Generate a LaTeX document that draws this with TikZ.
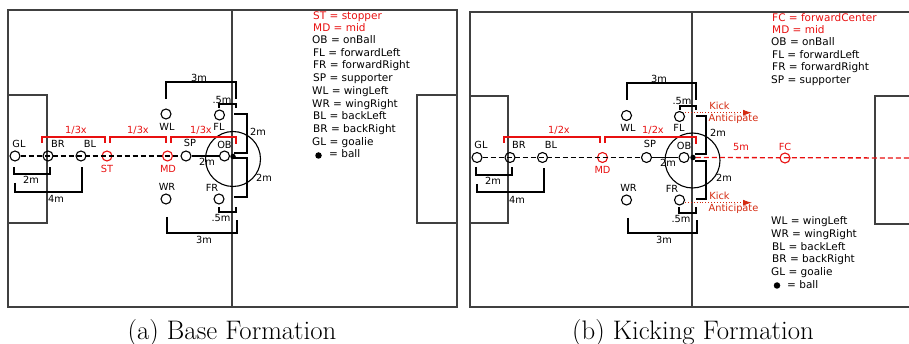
\documentclass[tikz,border=0pt]{standalone}
\usepackage{fontspec}
\setsansfont{DejaVu Sans}
\usepackage{xcolor}
\usetikzlibrary{arrows.meta}
\definecolor{fieldgray}{HTML}{404040}
\definecolor{accentred}{HTML}{E81010}
\definecolor{kickred}{HTML}{D42A10}
\tikzset{field/.style={draw=fieldgray, line width=1.3pt}, bracket/.style={draw=black, line width=1.4pt}, redbracket/.style={draw=accentred, line width=1.4pt}, player/.style={circle, draw=black, line width=1.1pt, minimum size=10pt, inner sep=0pt}, redplayer/.style={player, draw=accentred}, ballpt/.style={circle, fill=black, minimum size=5.5pt, inner sep=0pt}, lab/.style={font=\sffamily\fontsize{9.8}{10}\selectfont, text=black, inner sep=0pt}, redlab/.style={lab, text=accentred}, kicklab/.style={lab, text=kickred, text height=7.5pt, text depth=2pt}, key/.style={font=\sffamily\fontsize{10.5}{11}\selectfont, text=black, anchor=west, inner sep=0pt, text height=8pt, text depth=2pt}, redkey/.style={key, text=accentred}, captext/.style={font=\fontsize{26.8}{27}\selectfont, text=black, inner sep=0pt}}

\begin{document}
\begin{tikzpicture}[x=1pt,y=-1pt]
\useasboundingbox (0,0) rectangle (909,344);
% base formation: field
\draw[field] (8,10) rectangle (457,307);
\draw[field] (232,10)--(232,307);
\draw[field] (8,95) rectangle (47,223);
\draw[field] (457,95)--(417,95)--(417,223)--(457,223);
\draw[black, line width=1.1pt] (233,159) circle (27.5);
% base formation: players
\node[player] (GLa) at (15,156) {};
\node[player] (BRa) at (48,156) {};
\node[player] (BLa) at (81,156) {};
\node[redplayer] (STa) at (107,156) {};
\node[redplayer] (MDa) at (167.5,156) {};
\node[player] (SPa) at (186,156) {};
\node[player] (OBa) at (224.5,156) {};
\node[ballpt] (balla) at (233,156.5) {};
\node[player] (WLa) at (166,114) {};
\node[player] (FLa) at (219.5,115) {};
\node[player] (WRa) at (166,199) {};
\node[player] (FRa) at (219,199) {};
\draw[dashed, line width=1.3pt, dash pattern=on 5pt off 3pt] (GLa)--(SPa);
\draw[line width=1.3pt] (SPa)--(OBa);
% base formation: brackets
\draw[bracket] (166,99)--(166,82)--(236,82)--(236,99);
\draw[bracket] (219,108)--(219,104)--(236,104)--(236,108);
\draw[bracket] (234,114)--(247,114)--(247,153)--(234,153);
\draw[bracket] (234,158)--(247,158)--(247,197)--(234,197);
\draw[bracket] (219,207)--(219,212)--(236,212)--(236,207);
\draw[bracket] (167,217)--(167,233)--(237,233)--(237,220);
\draw[bracket] (14,167)--(14,174)--(50,174)--(50,167);
\draw[bracket] (15,183)--(15,192)--(82,192)--(82,167);
\draw[redbracket] (42,143)--(42,137)--(105,137)--(105,143);
\draw[redbracket] (110,143)--(110,137)--(166,137)--(166,143);
\draw[redbracket] (171,143)--(171,137)--(236,137)--(236,144);
% base formation: labels
\node[lab] (GLat) at (19,144) {GL}; \node[lab] (BRat) at (58,144) {BR}; \node[lab] (BLat) at (90,144) {BL};
\node[redlab] (STat) at (107,169) {ST}; \node[redlab] (MDat) at (168,169) {MD};
\node[lab] (SPat) at (190,143) {SP}; \node[lab] (OBat) at (224.5,145) {OB};
\node[lab] (WLat) at (167,127) {WL}; \node[lab] (FLat) at (219,127) {FL};
\node[lab] (WRat) at (167,187) {WR}; \node[lab] (FRat) at (212,188) {FR};
\node[lab] (topa) at (199,78) {3m}; \node[lab] (fivea) at (222,100) {.5m};
\node[lab] (upa) at (258,132) {2m}; \node[lab] (dna) at (264,178) {2m};
\node[lab] (fivb) at (221,218) {.5m}; \node[lab] (bota) at (204,240) {3m};
\node[lab] (twoa) at (31,180) {2m}; \node[lab] (foura) at (56,199) {4m}; \node[lab] (mida) at (207,162) {2m};
\node[redlab] (thirda) at (76,130) {1/3x}; \node[redlab] (thirdb) at (138,130) {1/3x}; \node[redlab] (thirdc) at (201,130) {1/3x};
% base formation: key
\node[redkey] (k1) at (313,17) {ST = stopper};
\node[redkey] (k2) at (313,29) {MD = mid};
\node[key] (k3) at (312,41) {OB = onBall};
\node[key] (k4) at (313,54) {FL = forwardLeft};
\node[key] (k5) at (313,66) {FR = forwardRight};
\node[key] (k6) at (313,79) {SP = supporter};
\node[key] (k7) at (312,92) {WL = wingLeft};
\node[key] (k8) at (312,105) {WR = wingRight};
\node[key] (k9) at (313,117) {BL = backLeft};
\node[key] (k10) at (313,130) {BR = backRight};
\node[key] (k11) at (312,143) {GL = goalie};
\node[ballpt, minimum size=6.5pt] (k12b) at (318.5,155.5) {}; \node[key] (k12) at (329,155) {= ball};
% kicking formation: field
\draw[field] (909,12)--(470,12)--(470,307)--(909,307);
\draw[field] (692,12)--(692,307);
\draw[field] (470,96)--(508,96)--(508,223)--(470,223);
\draw[field] (909,96)--(875,96)--(875,224)--(909,224);
\draw[black, line width=1.1pt] (692.5,160.5) circle (27.5);
% kicking formation: players
\node[player] (GLb) at (477,157.5) {};
\node[player] (BRb) at (510,157.5) {};
\node[player] (BLb) at (542.5,157.5) {};
\node[redplayer] (MDb) at (602.5,157.5) {};
\node[player] (SPb) at (646.5,157.5) {};
\node[player] (OBb) at (684,157.5) {};
\node[ballpt] (ballb) at (693,157.5) {};
\node[player] (WLb) at (626.5,115.5) {};
\node[player] (FLb) at (679.5,116.5) {};
\node[player] (WRb) at (626.5,200) {};
\node[player] (FRb) at (679.5,200) {};
\node[redplayer] (FCb) at (785,158) {};
\coordinate (edgeb) at (909,158);
\coordinate (kickup) at (752,112.7);
\coordinate (kickdn) at (752,202.7);
\draw[dashed, line width=1.3pt, dash pattern=on 5pt off 3pt] (GLb)--(SPb);
\draw[line width=1.3pt] (SPb)--(OBb);
\draw[accentred, line width=1.3pt, dash pattern=on 5pt off 3pt] (ballb)--(edgeb);
\draw[kickred, line width=.9pt, dotted, -{Latex[length=9pt,width=6pt]}] (FLb.east|-kickup)--(kickup);
\draw[kickred, line width=.9pt, dotted, -{Latex[length=9pt,width=6pt]}] (FRb.east|-kickdn)--(kickdn);
% kicking formation: brackets
\draw[bracket] (627,100)--(627,83)--(696,83)--(696,100);
\draw[bracket] (680,110)--(680,106)--(696,106)--(696,110);
\draw[bracket] (696,116)--(706,116)--(706,154)--(695,154);
\draw[bracket] (695,161)--(706,161)--(706,199)--(696,199);
\draw[bracket] (679,207)--(679,213)--(696,213)--(696,207);
\draw[bracket] (628,218)--(628,233)--(697,233)--(697,220);
\draw[bracket] (476,167)--(476,175)--(512,175)--(512,167);
\draw[bracket] (477,184)--(477,192)--(544,192)--(544,168);
\draw[redbracket] (504,143)--(504,137)--(600,137)--(600,143);
\draw[redbracket] (605,143)--(605,137)--(696,137)--(696,144);
% kicking formation: labels
\node[lab] (GLbt) at (481,145) {GL}; \node[lab] (BRbt) at (519,145) {BR}; \node[lab] (BLbt) at (551,145) {BL};
\node[redlab] (MDbt) at (602.5,169.5) {MD}; \node[redlab] (FCbt) at (785,146.5) {FC};
\node[lab] (SPbt) at (650,144) {SP}; \node[lab] (OBbt) at (684,146) {OB};
\node[lab] (WLbt) at (628,128) {WL}; \node[lab] (FLbt) at (679,128) {FL};
\node[lab] (WRbt) at (628.5,188) {WR}; \node[lab] (FRbt) at (672,189) {FR};
\node[lab] (topb) at (659,79) {3m}; \node[lab] (fiveb) at (682,101) {.5m};
\node[lab] (upb) at (718,133) {2m}; \node[lab] (dnb) at (724,178) {2m};
\node[lab] (fivc) at (681,218.5) {.5m}; \node[lab] (botb) at (664,240) {3m};
\node[lab] (twob) at (493,181) {2m}; \node[lab] (fourb) at (517,200) {4m}; \node[lab] (midb) at (668,163) {2m};
\node[redlab] (halfa) at (559,130) {1/2x}; \node[redlab] (halfb) at (653,130) {1/2x};
\node[redlab] (fivem) at (741,147) {5m};
\node[kicklab] (kicka) at (719.5,107) {Kick}; \node[kicklab] (anta) at (733.5,119) {Anticipate};
\node[kicklab] (kickb) at (719.5,197) {Kick}; \node[kicklab] (antb) at (733.5,209) {Anticipate};
% kicking formation: key
\node[redkey] (m1) at (772,19) {FC = forwardCenter};
\node[redkey] (m2) at (772,31) {MD = mid};
\node[key] (m3) at (771,43) {OB = onBall};
\node[key] (m4) at (772,55.5) {FL = forwardLeft};
\node[key] (m5) at (772,68) {FR = forwardRight};
\node[key] (m6) at (771,81) {SP = supporter};
\node[key] (m7) at (771,222) {WL = wingLeft};
\node[key] (m8) at (771,235) {WR = wingRight};
\node[key] (m9) at (772,248) {BL = backLeft};
\node[key] (m10) at (772,260) {BR = backRight};
\node[key] (m11) at (771,273) {GL = goalie};
\node[ballpt, minimum size=6.5pt] (m12b) at (777,285.5) {}; \node[key] (m12) at (787,285) {= ball};
% captions
\node[captext] (capa) at (232,333) {(a) Base Formation};
\node[captext] (capb) at (693,333) {(b) Kicking Formation};
\end{tikzpicture}
\end{document}
